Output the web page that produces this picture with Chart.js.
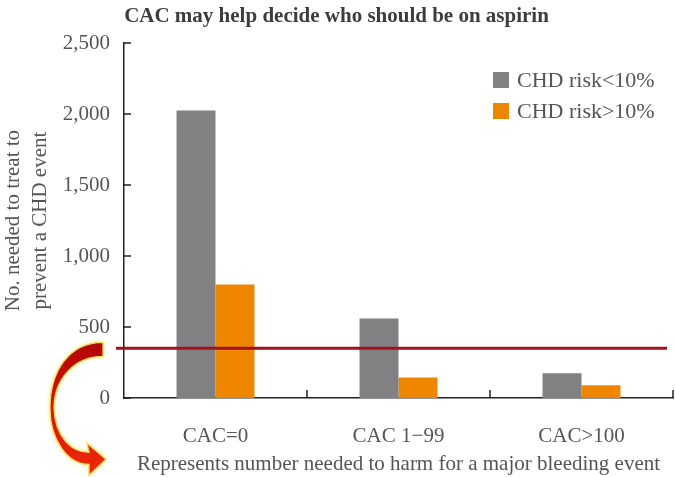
<!DOCTYPE html>
<html>
<head>
<meta charset="utf-8">
<script src="https://cdn.jsdelivr.net/npm/chart.js@4.4.1/dist/chart.umd.min.js"></script>
<style>
  html, body { margin: 0; padding: 0; background: #fff; }
  #wrap { width: 675px; height: 477px; }
</style>
</head>
<body>
<div id="wrap"><canvas id="chart" width="675" height="477"></canvas></div>
<script>
// data
var categories = ['CAC=0', 'CAC 1\u221299', 'CAC>100'];
var lowRisk = [2025, 560, 175];   // CHD risk<10%
var highRisk = [800, 145, 90];    // CHD risk>10%
var harmValue = 350;              // number needed to harm (major bleeding)
var yTicks = [0, 500, 1000, 1500, 2000, 2500];

var serif = '"Liberation Serif", "Times New Roman", serif';
var textColor = '#555555';

// little inward ticks, red NNH line, legend and the curved arrow
var decorPlugin = {
    id: 'decor',
    afterDatasetsDraw: function (chart) {
        var ctx = chart.ctx;
        var area = chart.chartArea;
        var y = chart.scales.y;
        var x = chart.scales.x;
        ctx.save();
        ctx.strokeStyle = '#222';
        ctx.lineWidth = 1.5;
        // y ticks pointing into the plot
        yTicks.forEach(function (v) {
            var py = Math.round(y.getPixelForValue(v));
            ctx.beginPath();
            ctx.moveTo(area.left, py);
            ctx.lineTo(area.left + 7, py);
            ctx.stroke();
        });
        // x ticks between categories, pointing up
        for (var i = 1; i <= categories.length; i++) {
            var px = Math.round(x.getPixelForValue(i - 0.5));
            ctx.beginPath();
            ctx.moveTo(px, area.bottom);
            ctx.lineTo(px, area.bottom - 8);
            ctx.stroke();
        }
        // harm line
        var hy = y.getPixelForValue(harmValue);
        ctx.strokeStyle = '#a3121c';
        ctx.lineWidth = 3;
        ctx.beginPath();
        ctx.moveTo(area.left - 8, hy);
        ctx.lineTo(area.right - 6, hy);
        ctx.stroke();
        ctx.restore();
    },
    afterDraw: function (chart) {
        var ctx = chart.ctx;
        var area = chart.chartArea;
        var hy = chart.scales.y.getPixelForValue(harmValue);
        ctx.save();

        // legend
        ctx.font = '22px ' + serif;
        ctx.textBaseline = 'middle';
        ctx.textAlign = 'left';
        chart.data.datasets.forEach(function (ds, i) {
            var ly = 80 + i * 31;
            ctx.fillStyle = ds.backgroundColor;
            ctx.fillRect(493, ly - 8, 16, 16);
            ctx.fillStyle = textColor;
            ctx.fillText(ds.label, 517, ly + 1);
        });

        // curved arrow from the harm line down to the footnote
        var ox = area.left - 21;
        var oy = hy - 6;
        ctx.beginPath();
        ctx.moveTo(ox, oy);
        ctx.bezierCurveTo(ox - 34, oy, ox - 53, oy + 29, ox - 53, oy + 66);
        ctx.bezierCurveTo(ox - 53, oy + 98, ox - 35, oy + 122, ox - 14, oy + 122);
        ctx.lineTo(ox - 14, oy + 133);
        ctx.lineTo(ox + 3, oy + 117);
        ctx.lineTo(ox - 16, oy + 101);
        ctx.lineTo(ox - 14, oy + 110);
        ctx.bezierCurveTo(ox - 31, oy + 110, ox - 48, oy + 95, ox - 49, oy + 66);
        ctx.bezierCurveTo(ox - 49, oy + 36, ox - 28, oy + 14, ox, oy + 14);
        ctx.closePath();
        var grad = ctx.createLinearGradient(0, oy, 0, oy + 133);
        grad.addColorStop(0, '#b00606');
        grad.addColorStop(0.5, '#d81208');
        grad.addColorStop(1, '#ee2a0a');
        ctx.shadowColor = 'rgba(240, 220, 80, 0.9)';
        ctx.shadowBlur = 4;
        ctx.fillStyle = grad;
        ctx.fill();
        ctx.shadowBlur = 0;
        ctx.strokeStyle = '#f3dc5a';
        ctx.lineWidth = 1.3;
        ctx.stroke();
        ctx.restore();
    }
};

var ctx = document.getElementById('chart').getContext('2d');
var chart = new Chart(ctx, {
    type: 'bar',
    data: {
        labels: categories,
        datasets: [
            {
                label: 'CHD risk<10%',
                data: lowRisk,
                backgroundColor: '#818184',
                barPercentage: 1,
                categoryPercentage: 0.426
            },
            {
                label: 'CHD risk>10%',
                data: highRisk,
                backgroundColor: '#ef8600',
                barPercentage: 1,
                categoryPercentage: 0.426
            }
        ]
    },
    options: {
        responsive: false,
        animation: false,
        layout: { padding: { top: 0, left: 0, right: 2, bottom: 0 } },
        plugins: {
            legend: { display: false },
            tooltip: { enabled: false },
            title: {
                display: true,
                text: 'CAC may help decide who should be on aspirin',
                color: '#3d3d3d',
                font: { family: serif, size: 21, weight: 'bold' },
                padding: { top: 4, bottom: 14 }
            }
        },
        scales: {
            x: {
                grid: { display: false, drawTicks: false },
                border: { display: true, color: '#222', width: 1.5 },
                ticks: {
                    color: textColor,
                    font: { family: serif, size: 21 },
                    padding: 26
                },
                title: {
                    display: true,
                    text: 'Represents number needed to harm for a major bleeding event',
                    color: textColor,
                    font: { family: serif, size: 21 },
                    padding: { top: 0, bottom: 0 }
                },
                afterFit: function (scale) { scale.height = 79; }
            },
            y: {
                min: 0,
                max: 2500,
                grid: { display: false, drawTicks: false },
                border: { display: true, color: '#222', width: 1.5 },
                ticks: {
                    stepSize: 500,
                    color: textColor,
                    font: { family: serif, size: 21 },
                    padding: 14,
                    callback: function (v) { return v.toLocaleString('en-US'); }
                },
                title: {
                    display: true,
                    text: ['No. needed to treat to', 'prevent a CHD event'],
                    color: textColor,
                    font: { family: serif, size: 21, lineHeight: 1.3 },
                    padding: { top: 0, bottom: 0 }
                },
                afterFit: function (scale) { scale.width = 124; }
            }
        }
    },
    plugins: [decorPlugin]
});
</script>
</body>
</html>
